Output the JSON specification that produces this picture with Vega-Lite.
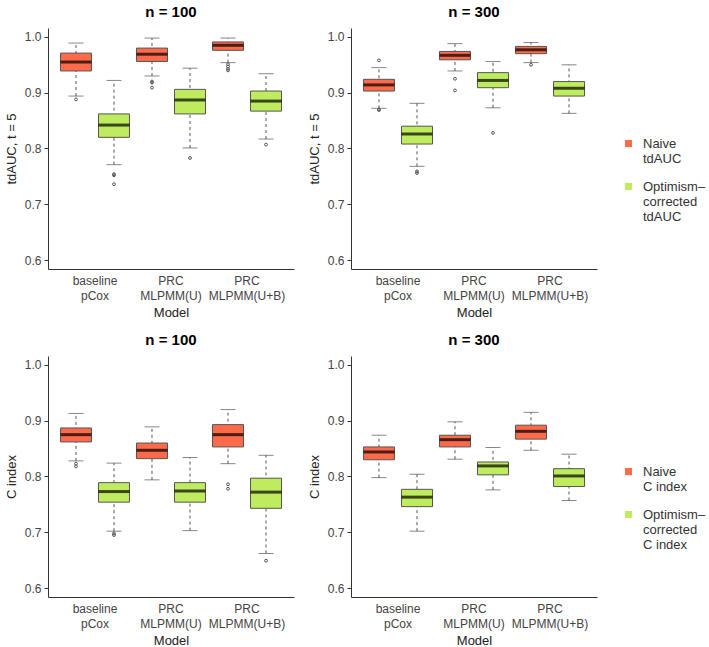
{
  "$schema": "https://vega.github.io/schema/vega-lite/v6.json",
  "padding": {"left": 5, "top": 5, "right": 5, "bottom": 5},
  "background": "white",
  "datasets": {
    "boxes": [
      {"metric": "tdAUC", "n": 100, "model": "baseline|pCox", "type": "Naive", "lo": 0.894, "q1": 0.939, "med": 0.955, "q3": 0.971, "hi": 0.989},
      {"metric": "tdAUC", "n": 100, "model": "baseline|pCox", "type": "Corrected", "lo": 0.771, "q1": 0.820, "med": 0.842, "q3": 0.862, "hi": 0.922},
      {"metric": "tdAUC", "n": 100, "model": "PRC|MLPMM(U)", "type": "Naive", "lo": 0.930, "q1": 0.956, "med": 0.969, "q3": 0.980, "hi": 0.998},
      {"metric": "tdAUC", "n": 100, "model": "PRC|MLPMM(U)", "type": "Corrected", "lo": 0.801, "q1": 0.862, "med": 0.887, "q3": 0.906, "hi": 0.944},
      {"metric": "tdAUC", "n": 100, "model": "PRC|MLPMM(U+B)", "type": "Naive", "lo": 0.954, "q1": 0.976, "med": 0.985, "q3": 0.991, "hi": 0.998},
      {"metric": "tdAUC", "n": 100, "model": "PRC|MLPMM(U+B)", "type": "Corrected", "lo": 0.817, "q1": 0.867, "med": 0.885, "q3": 0.903, "hi": 0.934},
      {"metric": "tdAUC", "n": 300, "model": "baseline|pCox", "type": "Naive", "lo": 0.872, "q1": 0.903, "med": 0.914, "q3": 0.924, "hi": 0.945},
      {"metric": "tdAUC", "n": 300, "model": "baseline|pCox", "type": "Corrected", "lo": 0.768, "q1": 0.808, "med": 0.826, "q3": 0.840, "hi": 0.881},
      {"metric": "tdAUC", "n": 300, "model": "PRC|MLPMM(U)", "type": "Naive", "lo": 0.939, "q1": 0.959, "med": 0.967, "q3": 0.974, "hi": 0.988},
      {"metric": "tdAUC", "n": 300, "model": "PRC|MLPMM(U)", "type": "Corrected", "lo": 0.873, "q1": 0.909, "med": 0.922, "q3": 0.936, "hi": 0.956},
      {"metric": "tdAUC", "n": 300, "model": "PRC|MLPMM(U+B)", "type": "Naive", "lo": 0.954, "q1": 0.970, "med": 0.977, "q3": 0.983, "hi": 0.990},
      {"metric": "tdAUC", "n": 300, "model": "PRC|MLPMM(U+B)", "type": "Corrected", "lo": 0.863, "q1": 0.894, "med": 0.908, "q3": 0.920, "hi": 0.950},
      {"metric": "C", "n": 100, "model": "baseline|pCox", "type": "Naive", "lo": 0.828, "q1": 0.862, "med": 0.875, "q3": 0.887, "hi": 0.913},
      {"metric": "C", "n": 100, "model": "baseline|pCox", "type": "Corrected", "lo": 0.702, "q1": 0.754, "med": 0.773, "q3": 0.789, "hi": 0.824},
      {"metric": "C", "n": 100, "model": "PRC|MLPMM(U)", "type": "Naive", "lo": 0.794, "q1": 0.832, "med": 0.847, "q3": 0.860, "hi": 0.889},
      {"metric": "C", "n": 100, "model": "PRC|MLPMM(U)", "type": "Corrected", "lo": 0.703, "q1": 0.754, "med": 0.774, "q3": 0.789, "hi": 0.834},
      {"metric": "C", "n": 100, "model": "PRC|MLPMM(U+B)", "type": "Naive", "lo": 0.823, "q1": 0.853, "med": 0.875, "q3": 0.893, "hi": 0.920},
      {"metric": "C", "n": 100, "model": "PRC|MLPMM(U+B)", "type": "Corrected", "lo": 0.662, "q1": 0.743, "med": 0.772, "q3": 0.797, "hi": 0.838},
      {"metric": "C", "n": 300, "model": "baseline|pCox", "type": "Naive", "lo": 0.798, "q1": 0.830, "med": 0.844, "q3": 0.853, "hi": 0.874},
      {"metric": "C", "n": 300, "model": "baseline|pCox", "type": "Corrected", "lo": 0.702, "q1": 0.746, "med": 0.763, "q3": 0.777, "hi": 0.804},
      {"metric": "C", "n": 300, "model": "PRC|MLPMM(U)", "type": "Naive", "lo": 0.831, "q1": 0.853, "med": 0.866, "q3": 0.874, "hi": 0.898},
      {"metric": "C", "n": 300, "model": "PRC|MLPMM(U)", "type": "Corrected", "lo": 0.776, "q1": 0.803, "med": 0.819, "q3": 0.826, "hi": 0.852},
      {"metric": "C", "n": 300, "model": "PRC|MLPMM(U+B)", "type": "Naive", "lo": 0.847, "q1": 0.867, "med": 0.881, "q3": 0.892, "hi": 0.915},
      {"metric": "C", "n": 300, "model": "PRC|MLPMM(U+B)", "type": "Corrected", "lo": 0.757, "q1": 0.782, "med": 0.801, "q3": 0.814, "hi": 0.840}
    ],
    "outliers": [
      {"metric": "tdAUC", "n": 100, "model": "baseline|pCox", "type": "Naive", "v": 0.888},
      {"metric": "tdAUC", "n": 100, "model": "baseline|pCox", "type": "Corrected", "v": 0.754},
      {"metric": "tdAUC", "n": 100, "model": "baseline|pCox", "type": "Corrected", "v": 0.752},
      {"metric": "tdAUC", "n": 100, "model": "baseline|pCox", "type": "Corrected", "v": 0.736},
      {"metric": "tdAUC", "n": 100, "model": "PRC|MLPMM(U)", "type": "Naive", "v": 0.920},
      {"metric": "tdAUC", "n": 100, "model": "PRC|MLPMM(U)", "type": "Naive", "v": 0.918},
      {"metric": "tdAUC", "n": 100, "model": "PRC|MLPMM(U)", "type": "Naive", "v": 0.909},
      {"metric": "tdAUC", "n": 100, "model": "PRC|MLPMM(U)", "type": "Corrected", "v": 0.783},
      {"metric": "tdAUC", "n": 100, "model": "PRC|MLPMM(U+B)", "type": "Naive", "v": 0.951},
      {"metric": "tdAUC", "n": 100, "model": "PRC|MLPMM(U+B)", "type": "Naive", "v": 0.947},
      {"metric": "tdAUC", "n": 100, "model": "PRC|MLPMM(U+B)", "type": "Naive", "v": 0.943},
      {"metric": "tdAUC", "n": 100, "model": "PRC|MLPMM(U+B)", "type": "Naive", "v": 0.940},
      {"metric": "tdAUC", "n": 100, "model": "PRC|MLPMM(U+B)", "type": "Corrected", "v": 0.807},
      {"metric": "tdAUC", "n": 300, "model": "baseline|pCox", "type": "Naive", "v": 0.958},
      {"metric": "tdAUC", "n": 300, "model": "baseline|pCox", "type": "Naive", "v": 0.870},
      {"metric": "tdAUC", "n": 300, "model": "baseline|pCox", "type": "Naive", "v": 0.869},
      {"metric": "tdAUC", "n": 300, "model": "baseline|pCox", "type": "Corrected", "v": 0.759},
      {"metric": "tdAUC", "n": 300, "model": "baseline|pCox", "type": "Corrected", "v": 0.756},
      {"metric": "tdAUC", "n": 300, "model": "PRC|MLPMM(U)", "type": "Naive", "v": 0.925},
      {"metric": "tdAUC", "n": 300, "model": "PRC|MLPMM(U)", "type": "Naive", "v": 0.904},
      {"metric": "tdAUC", "n": 300, "model": "PRC|MLPMM(U)", "type": "Corrected", "v": 0.828},
      {"metric": "tdAUC", "n": 300, "model": "PRC|MLPMM(U+B)", "type": "Naive", "v": 0.950},
      {"metric": "C", "n": 100, "model": "baseline|pCox", "type": "Naive", "v": 0.823},
      {"metric": "C", "n": 100, "model": "baseline|pCox", "type": "Naive", "v": 0.818},
      {"metric": "C", "n": 100, "model": "baseline|pCox", "type": "Corrected", "v": 0.698},
      {"metric": "C", "n": 100, "model": "baseline|pCox", "type": "Corrected", "v": 0.695},
      {"metric": "C", "n": 100, "model": "PRC|MLPMM(U+B)", "type": "Naive", "v": 0.786},
      {"metric": "C", "n": 100, "model": "PRC|MLPMM(U+B)", "type": "Naive", "v": 0.778},
      {"metric": "C", "n": 100, "model": "PRC|MLPMM(U+B)", "type": "Corrected", "v": 0.649}
    ]
  },
  "vconcat": [
    {
      "hconcat": [
        {
          "width": 246, "height": 241, "title": "n = 100",
          "encoding": {
            "x": {"field": "model", "type": "nominal", "sort": ["baseline|pCox", "PRC|MLPMM(U)", "PRC|MLPMM(U+B)"], "scale": {"paddingInner": 0, "paddingOuter": 0.118}, "axis": {"title": "Model"}},
            "xOffset": {"field": "type", "type": "nominal", "sort": ["Naive", "Corrected"], "scale": {"paddingInner": 0, "paddingOuter": 0}}
          },
          "layer": [
            {"data": {"name": "boxes"}, "transform": [{"filter": "datum.metric == 'tdAUC' && datum.n == 100"}], "mark": {"type": "rule", "strokeDash": [3, 3], "color": "#555", "strokeWidth": 1},
             "encoding": {"y": {"field": "lo", "type": "quantitative", "scale": {"domain": [0.584, 1.016], "nice": false, "zero": false}, "axis": {"title": "tdAUC, t = 5", "values": [0.6, 0.7, 0.8, 0.9, 1.0], "format": ".1f"}}, "y2": {"field": "hi"}}},
            {"data": {"name": "boxes"}, "transform": [{"filter": "datum.metric == 'tdAUC' && datum.n == 100"}], "mark": {"type": "tick", "color": "#555", "size": 15, "thickness": 1}, "encoding": {"y": {"field": "lo", "type": "quantitative"}}},
            {"data": {"name": "boxes"}, "transform": [{"filter": "datum.metric == 'tdAUC' && datum.n == 100"}], "mark": {"type": "tick", "color": "#555", "size": 15, "thickness": 1}, "encoding": {"y": {"field": "hi", "type": "quantitative"}}},
            {"data": {"name": "boxes"}, "transform": [{"filter": "datum.metric == 'tdAUC' && datum.n == 100"}], "mark": {"type": "bar", "size": 31, "stroke": "#555", "strokeWidth": 1},
             "encoding": {"y": {"field": "q1", "type": "quantitative"}, "y2": {"field": "q3"},
               "color": {"field": "type", "type": "nominal", "scale": {"domain": ["Naive", "Corrected"], "range": ["#FF6A4B", "#BEEC5E"]}, "legend": {"title": " ", "labelExpr": "datum.label == 'Naive' ? ['Naive', 'tdAUC'] : ['Optimism–', 'corrected', 'tdAUC']"}}}},
            {"data": {"name": "boxes"}, "transform": [{"filter": "datum.metric == 'tdAUC' && datum.n == 100"}], "mark": {"type": "tick", "color": "#000", "size": 31, "thickness": 3}, "encoding": {"y": {"field": "med", "type": "quantitative"}}},
            {"data": {"name": "outliers"}, "transform": [{"filter": "datum.metric == 'tdAUC' && datum.n == 100"}], "mark": {"type": "point", "shape": "circle", "filled": false, "size": 8, "color": "#555", "strokeWidth": 1, "opacity": 1}, "encoding": {"y": {"field": "v", "type": "quantitative"}}}
          ]
        },
        {
          "width": 246, "height": 241, "title": "n = 300",
          "encoding": {
            "x": {"field": "model", "type": "nominal", "sort": ["baseline|pCox", "PRC|MLPMM(U)", "PRC|MLPMM(U+B)"], "scale": {"paddingInner": 0, "paddingOuter": 0.118}, "axis": {"title": "Model"}},
            "xOffset": {"field": "type", "type": "nominal", "sort": ["Naive", "Corrected"], "scale": {"paddingInner": 0, "paddingOuter": 0}}
          },
          "layer": [
            {"data": {"name": "boxes"}, "transform": [{"filter": "datum.metric == 'tdAUC' && datum.n == 300"}], "mark": {"type": "rule", "strokeDash": [3, 3], "color": "#555", "strokeWidth": 1},
             "encoding": {"y": {"field": "lo", "type": "quantitative", "scale": {"domain": [0.584, 1.016], "nice": false, "zero": false}, "axis": {"title": "tdAUC, t = 5", "values": [0.6, 0.7, 0.8, 0.9, 1.0], "format": ".1f"}}, "y2": {"field": "hi"}}},
            {"data": {"name": "boxes"}, "transform": [{"filter": "datum.metric == 'tdAUC' && datum.n == 300"}], "mark": {"type": "tick", "color": "#555", "size": 15, "thickness": 1}, "encoding": {"y": {"field": "lo", "type": "quantitative"}}},
            {"data": {"name": "boxes"}, "transform": [{"filter": "datum.metric == 'tdAUC' && datum.n == 300"}], "mark": {"type": "tick", "color": "#555", "size": 15, "thickness": 1}, "encoding": {"y": {"field": "hi", "type": "quantitative"}}},
            {"data": {"name": "boxes"}, "transform": [{"filter": "datum.metric == 'tdAUC' && datum.n == 300"}], "mark": {"type": "bar", "size": 31, "stroke": "#555", "strokeWidth": 1},
             "encoding": {"y": {"field": "q1", "type": "quantitative"}, "y2": {"field": "q3"},
               "color": {"field": "type", "type": "nominal", "scale": {"domain": ["Naive", "Corrected"], "range": ["#FF6A4B", "#BEEC5E"]}, "legend": {"title": " ", "labelExpr": "datum.label == 'Naive' ? ['Naive', 'tdAUC'] : ['Optimism–', 'corrected', 'tdAUC']"}}}},
            {"data": {"name": "boxes"}, "transform": [{"filter": "datum.metric == 'tdAUC' && datum.n == 300"}], "mark": {"type": "tick", "color": "#000", "size": 31, "thickness": 3}, "encoding": {"y": {"field": "med", "type": "quantitative"}}},
            {"data": {"name": "outliers"}, "transform": [{"filter": "datum.metric == 'tdAUC' && datum.n == 300"}], "mark": {"type": "point", "shape": "circle", "filled": false, "size": 8, "color": "#555", "strokeWidth": 1, "opacity": 1}, "encoding": {"y": {"field": "v", "type": "quantitative"}}}
          ]
        }
      ],
      "resolve": {"scale": {"color": "shared"}}
    },
    {
      "hconcat": [
        {
          "width": 246, "height": 241, "title": "n = 100",
          "encoding": {
            "x": {"field": "model", "type": "nominal", "sort": ["baseline|pCox", "PRC|MLPMM(U)", "PRC|MLPMM(U+B)"], "scale": {"paddingInner": 0, "paddingOuter": 0.118}, "axis": {"title": "Model"}},
            "xOffset": {"field": "type", "type": "nominal", "sort": ["Naive", "Corrected"], "scale": {"paddingInner": 0, "paddingOuter": 0}}
          },
          "layer": [
            {"data": {"name": "boxes"}, "transform": [{"filter": "datum.metric == 'C' && datum.n == 100"}], "mark": {"type": "rule", "strokeDash": [3, 3], "color": "#555", "strokeWidth": 1},
             "encoding": {"y": {"field": "lo", "type": "quantitative", "scale": {"domain": [0.584, 1.016], "nice": false, "zero": false}, "axis": {"title": "C index", "values": [0.6, 0.7, 0.8, 0.9, 1.0], "format": ".1f"}}, "y2": {"field": "hi"}}},
            {"data": {"name": "boxes"}, "transform": [{"filter": "datum.metric == 'C' && datum.n == 100"}], "mark": {"type": "tick", "color": "#555", "size": 15, "thickness": 1}, "encoding": {"y": {"field": "lo", "type": "quantitative"}}},
            {"data": {"name": "boxes"}, "transform": [{"filter": "datum.metric == 'C' && datum.n == 100"}], "mark": {"type": "tick", "color": "#555", "size": 15, "thickness": 1}, "encoding": {"y": {"field": "hi", "type": "quantitative"}}},
            {"data": {"name": "boxes"}, "transform": [{"filter": "datum.metric == 'C' && datum.n == 100"}], "mark": {"type": "bar", "size": 31, "stroke": "#555", "strokeWidth": 1},
             "encoding": {"y": {"field": "q1", "type": "quantitative"}, "y2": {"field": "q3"},
               "color": {"field": "type", "type": "nominal", "scale": {"domain": ["Naive", "Corrected"], "range": ["#FF6A4B", "#BEEC5E"]}, "legend": {"title": " ", "labelExpr": "datum.label == 'Naive' ? ['Naive', 'C index'] : ['Optimism–', 'corrected', 'C index']"}}}},
            {"data": {"name": "boxes"}, "transform": [{"filter": "datum.metric == 'C' && datum.n == 100"}], "mark": {"type": "tick", "color": "#000", "size": 31, "thickness": 3}, "encoding": {"y": {"field": "med", "type": "quantitative"}}},
            {"data": {"name": "outliers"}, "transform": [{"filter": "datum.metric == 'C' && datum.n == 100"}], "mark": {"type": "point", "shape": "circle", "filled": false, "size": 8, "color": "#555", "strokeWidth": 1, "opacity": 1}, "encoding": {"y": {"field": "v", "type": "quantitative"}}}
          ]
        },
        {
          "width": 246, "height": 241, "title": "n = 300",
          "encoding": {
            "x": {"field": "model", "type": "nominal", "sort": ["baseline|pCox", "PRC|MLPMM(U)", "PRC|MLPMM(U+B)"], "scale": {"paddingInner": 0, "paddingOuter": 0.118}, "axis": {"title": "Model"}},
            "xOffset": {"field": "type", "type": "nominal", "sort": ["Naive", "Corrected"], "scale": {"paddingInner": 0, "paddingOuter": 0}}
          },
          "layer": [
            {"data": {"name": "boxes"}, "transform": [{"filter": "datum.metric == 'C' && datum.n == 300"}], "mark": {"type": "rule", "strokeDash": [3, 3], "color": "#555", "strokeWidth": 1},
             "encoding": {"y": {"field": "lo", "type": "quantitative", "scale": {"domain": [0.584, 1.016], "nice": false, "zero": false}, "axis": {"title": "C index", "values": [0.6, 0.7, 0.8, 0.9, 1.0], "format": ".1f"}}, "y2": {"field": "hi"}}},
            {"data": {"name": "boxes"}, "transform": [{"filter": "datum.metric == 'C' && datum.n == 300"}], "mark": {"type": "tick", "color": "#555", "size": 15, "thickness": 1}, "encoding": {"y": {"field": "lo", "type": "quantitative"}}},
            {"data": {"name": "boxes"}, "transform": [{"filter": "datum.metric == 'C' && datum.n == 300"}], "mark": {"type": "tick", "color": "#555", "size": 15, "thickness": 1}, "encoding": {"y": {"field": "hi", "type": "quantitative"}}},
            {"data": {"name": "boxes"}, "transform": [{"filter": "datum.metric == 'C' && datum.n == 300"}], "mark": {"type": "bar", "size": 31, "stroke": "#555", "strokeWidth": 1},
             "encoding": {"y": {"field": "q1", "type": "quantitative"}, "y2": {"field": "q3"},
               "color": {"field": "type", "type": "nominal", "scale": {"domain": ["Naive", "Corrected"], "range": ["#FF6A4B", "#BEEC5E"]}, "legend": {"title": " ", "labelExpr": "datum.label == 'Naive' ? ['Naive', 'C index'] : ['Optimism–', 'corrected', 'C index']"}}}},
            {"data": {"name": "boxes"}, "transform": [{"filter": "datum.metric == 'C' && datum.n == 300"}], "mark": {"type": "tick", "color": "#000", "size": 31, "thickness": 3}, "encoding": {"y": {"field": "med", "type": "quantitative"}}},
            {"data": {"name": "outliers"}, "transform": [{"filter": "datum.metric == 'C' && datum.n == 300"}], "mark": {"type": "point", "shape": "circle", "filled": false, "size": 8, "color": "#555", "strokeWidth": 1, "opacity": 1}, "encoding": {"y": {"field": "v", "type": "quantitative"}}}
          ]
        }
      ],
      "resolve": {"scale": {"color": "shared"}}
    }
  ],
  "resolve": {"scale": {"color": "independent"}},
  "config": {
    "font": "Liberation Sans",
    "view": {"stroke": null},
    "concat": {"spacing": 14},
    "title": {"font": "Liberation Sans", "fontSize": 15, "fontWeight": "bold", "color": "#000", "offset": 8},
    "axis": {"grid": false, "domainColor": "#333", "tickColor": "#333", "tickSize": 4, "labelFont": "Liberation Sans", "labelFontSize": 12, "labelColor": "#444", "titleFont": "Liberation Sans", "titleFontSize": 13, "titleFontWeight": "normal", "titleColor": "#222", "labelPadding": 3},
    "axisX": {"ticks": false, "labelAngle": 0, "labelExpr": "split(datum.label, '|')", "labelLineHeight": 15, "labelPadding": 6, "titlePadding": 5, "labelBaseline": "top"},
    "axisY": {"titlePadding": 6},
    "legend": {"symbolType": "square", "symbolSize": 50, "symbolStrokeWidth": 0, "labelFont": "Liberation Sans", "labelFontSize": 13, "labelColor": "#333", "rowPadding": 14, "labelLimit": 200, "offset": 25, "labelOffset": 8, "titleFontSize": 30, "titlePadding": 6, "layout": {"right": {"anchor": "middle"}}}
  }
}
